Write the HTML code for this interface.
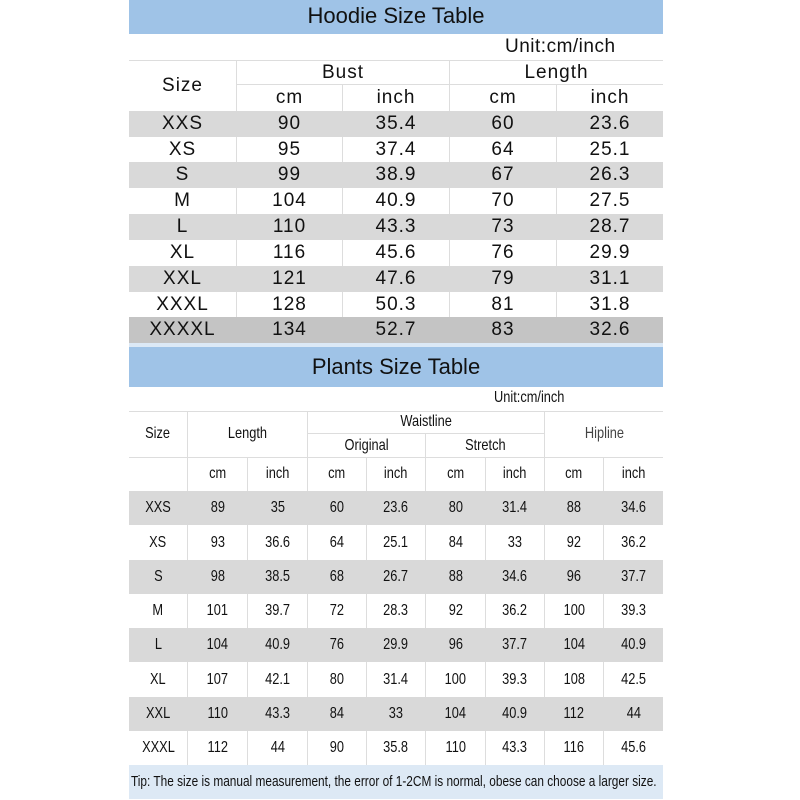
<!DOCTYPE html>
<html><head><meta charset="utf-8"><style>
*{margin:0;padding:0;box-sizing:border-box}
body{width:800px;height:800px;background:#fff;position:relative;overflow:hidden;font-family:"Liberation Sans",sans-serif;color:#111}
.a{position:absolute}
.band{position:absolute;left:129px;width:534px;background:#9fc3e7;text-align:center}
.r{position:absolute;left:129px;width:534px;display:flex}
.r>div{height:100%;display:flex;align-items:center;justify-content:center;border-right:1px solid #ddd;white-space:nowrap}
.r>div:last-child{border-right:none}
.g{background:#d9d9d9}
.g>div{border-right-color:#d9d9d9}
.h .c{font-size:19px;letter-spacing:1px}
.p{font-size:16px}
.p>div>span,.ps{display:inline-block;transform:scaleX(0.8)}
.line{position:absolute;left:129px;width:534px;height:1px;background:#ddd}
</style></head><body>
<div class="band" style="top:0;height:34px;font-size:22px;line-height:32px">Hoodie Size Table</div>
<div class="a" style="left:505px;top:36px;font-size:19px;letter-spacing:0.5px">Unit:cm/inch</div>
<div class="line" style="top:60px"></div>
<div class="a" style="left:129px;top:60px;width:108px;height:51px;border-right:1px solid #ddd;font-size:19px;display:flex;align-items:center;justify-content:center;letter-spacing:1px">Size</div>
<div class="a" style="left:237px;top:60px;width:213px;height:25px;border-right:1px solid #ddd;border-bottom:1px solid #ddd;font-size:19px;text-align:center;line-height:26px;letter-spacing:1px">Bust</div>
<div class="a" style="left:450px;top:60px;width:213px;height:25px;border-bottom:1px solid #ddd;font-size:19px;text-align:center;line-height:26px;letter-spacing:1px">Length</div>
<div class="r h" style="top:85px;height:26px;left:237px;width:426px"><div class="c" style="width:106px">cm</div><div class="c" style="width:107px">inch</div><div class="c" style="width:107px">cm</div><div class="c" style="width:106px">inch</div></div>

<div class="r h g" style="top:111px;height:26px"><div class="c" style="width:108px">XXS</div><div class="c" style="width:106px">90</div><div class="c" style="width:107px">35.4</div><div class="c" style="width:107px">60</div><div class="c" style="width:106px">23.6</div></div>
<div class="r h" style="top:137px;height:25px"><div class="c" style="width:108px">XS</div><div class="c" style="width:106px">95</div><div class="c" style="width:107px">37.4</div><div class="c" style="width:107px">64</div><div class="c" style="width:106px">25.1</div></div>
<div class="r h g" style="top:162px;height:26px"><div class="c" style="width:108px">S</div><div class="c" style="width:106px">99</div><div class="c" style="width:107px">38.9</div><div class="c" style="width:107px">67</div><div class="c" style="width:106px">26.3</div></div>
<div class="r h" style="top:188px;height:26px"><div class="c" style="width:108px">M</div><div class="c" style="width:106px">104</div><div class="c" style="width:107px">40.9</div><div class="c" style="width:107px">70</div><div class="c" style="width:106px">27.5</div></div>
<div class="r h g" style="top:214px;height:26px"><div class="c" style="width:108px">L</div><div class="c" style="width:106px">110</div><div class="c" style="width:107px">43.3</div><div class="c" style="width:107px">73</div><div class="c" style="width:106px">28.7</div></div>
<div class="r h" style="top:240px;height:26px"><div class="c" style="width:108px">XL</div><div class="c" style="width:106px">116</div><div class="c" style="width:107px">45.6</div><div class="c" style="width:107px">76</div><div class="c" style="width:106px">29.9</div></div>
<div class="r h g" style="top:266px;height:26px"><div class="c" style="width:108px">XXL</div><div class="c" style="width:106px">121</div><div class="c" style="width:107px">47.6</div><div class="c" style="width:107px">79</div><div class="c" style="width:106px">31.1</div></div>
<div class="r h" style="top:292px;height:25px"><div class="c" style="width:108px">XXXL</div><div class="c" style="width:106px">128</div><div class="c" style="width:107px">50.3</div><div class="c" style="width:107px">81</div><div class="c" style="width:106px">31.8</div></div>
<div class="r h" style="top:317px;height:26px;background:#c4c4c4"><div class="c" style="width:108px;border-color:#c4c4c4">XXXXL</div><div class="c" style="width:106px;border-color:#c4c4c4">134</div><div class="c" style="width:107px;border-color:#c4c4c4">52.7</div><div class="c" style="width:107px;border-color:#c4c4c4">83</div><div class="c" style="width:106px">32.6</div></div>
<div class="a" style="left:129px;top:343px;width:534px;height:4px;background:#dce9f6"></div>

<div class="band" style="top:347px;height:40px;font-size:22px;line-height:40px">Plants Size Table</div>
<div class="a" style="left:494px;top:389px;font-size:16px"><span class="ps" style="transform-origin:left">Unit:cm/inch</span></div>
<div class="line" style="top:411px"></div>
<div class="a p" style="left:129px;top:411px;width:59px;height:46px;border-right:1px solid #ddd;display:flex;align-items:center;justify-content:center"><span class="ps">Size</span></div>
<div class="a p" style="left:188px;top:411px;width:120px;height:46px;border-right:1px solid #ddd;display:flex;align-items:center;justify-content:center"><span class="ps">Length</span></div>
<div class="a p" style="left:308px;top:411px;width:237px;height:23px;border-right:1px solid #ddd;border-bottom:1px solid #ddd;display:flex;align-items:center;justify-content:center"><span class="ps">Waistline</span></div>
<div class="a p" style="left:308px;top:434px;width:118px;height:23px;border-right:1px solid #ddd;display:flex;align-items:center;justify-content:center"><span class="ps">Original</span></div>
<div class="a p" style="left:426px;top:434px;width:119px;height:23px;border-right:1px solid #ddd;display:flex;align-items:center;justify-content:center"><span class="ps">Stretch</span></div>
<div class="a p" style="left:545px;top:411px;width:118px;height:46px;display:flex;align-items:center;justify-content:center;color:#444"><span class="ps">Hipline</span></div>
<div class="line" style="top:457px"></div>
<div class="r p" style="top:457px;height:34px"><div style="width:59px"></div><div style="width:60px"><span>cm</span></div><div style="width:60px"><span>inch</span></div><div style="width:59px"><span>cm</span></div><div style="width:59px"><span>inch</span></div><div style="width:60px"><span>cm</span></div><div style="width:59px"><span>inch</span></div><div style="width:59px"><span>cm</span></div><div style="width:59px"><span>inch</span></div></div>

<div class="r p g" style="top:491px;height:34px"><div style="width:59px"><span>XXS</span></div><div style="width:60px"><span>89</span></div><div style="width:60px"><span>35</span></div><div style="width:59px"><span>60</span></div><div style="width:59px"><span>23.6</span></div><div style="width:60px"><span>80</span></div><div style="width:59px"><span>31.4</span></div><div style="width:59px"><span>88</span></div><div style="width:59px"><span>34.6</span></div></div>
<div class="r p" style="top:525px;height:35px"><div style="width:59px"><span>XS</span></div><div style="width:60px"><span>93</span></div><div style="width:60px"><span>36.6</span></div><div style="width:59px"><span>64</span></div><div style="width:59px"><span>25.1</span></div><div style="width:60px"><span>84</span></div><div style="width:59px"><span>33</span></div><div style="width:59px"><span>92</span></div><div style="width:59px"><span>36.2</span></div></div>
<div class="r p g" style="top:560px;height:34px"><div style="width:59px"><span>S</span></div><div style="width:60px"><span>98</span></div><div style="width:60px"><span>38.5</span></div><div style="width:59px"><span>68</span></div><div style="width:59px"><span>26.7</span></div><div style="width:60px"><span>88</span></div><div style="width:59px"><span>34.6</span></div><div style="width:59px"><span>96</span></div><div style="width:59px"><span>37.7</span></div></div>
<div class="r p" style="top:594px;height:34px"><div style="width:59px"><span>M</span></div><div style="width:60px"><span>101</span></div><div style="width:60px"><span>39.7</span></div><div style="width:59px"><span>72</span></div><div style="width:59px"><span>28.3</span></div><div style="width:60px"><span>92</span></div><div style="width:59px"><span>36.2</span></div><div style="width:59px"><span>100</span></div><div style="width:59px"><span>39.3</span></div></div>
<div class="r p g" style="top:628px;height:34px"><div style="width:59px"><span>L</span></div><div style="width:60px"><span>104</span></div><div style="width:60px"><span>40.9</span></div><div style="width:59px"><span>76</span></div><div style="width:59px"><span>29.9</span></div><div style="width:60px"><span>96</span></div><div style="width:59px"><span>37.7</span></div><div style="width:59px"><span>104</span></div><div style="width:59px"><span>40.9</span></div></div>
<div class="r p" style="top:662px;height:35px"><div style="width:59px"><span>XL</span></div><div style="width:60px"><span>107</span></div><div style="width:60px"><span>42.1</span></div><div style="width:59px"><span>80</span></div><div style="width:59px"><span>31.4</span></div><div style="width:60px"><span>100</span></div><div style="width:59px"><span>39.3</span></div><div style="width:59px"><span>108</span></div><div style="width:59px"><span>42.5</span></div></div>
<div class="r p g" style="top:697px;height:34px"><div style="width:59px"><span>XXL</span></div><div style="width:60px"><span>110</span></div><div style="width:60px"><span>43.3</span></div><div style="width:59px"><span>84</span></div><div style="width:59px"><span>33</span></div><div style="width:60px"><span>104</span></div><div style="width:59px"><span>40.9</span></div><div style="width:59px"><span>112</span></div><div style="width:59px"><span>44</span></div></div>
<div class="r p" style="top:731px;height:34px"><div style="width:59px"><span>XXXL</span></div><div style="width:60px"><span>112</span></div><div style="width:60px"><span>44</span></div><div style="width:59px"><span>90</span></div><div style="width:59px"><span>35.8</span></div><div style="width:60px"><span>110</span></div><div style="width:59px"><span>43.3</span></div><div style="width:59px"><span>116</span></div><div style="width:59px"><span>45.6</span></div></div>
<div class="a" style="left:129px;top:765px;width:534px;height:34px;background:#dde9f5;font-size:15px;line-height:34px;padding-left:2px;white-space:nowrap"><span class="ps" style="transform-origin:left;transform:scaleX(0.79)">Tip: The size is manual measurement, the error of 1-2CM is normal, obese can choose a larger size.</span></div>
</body></html>
